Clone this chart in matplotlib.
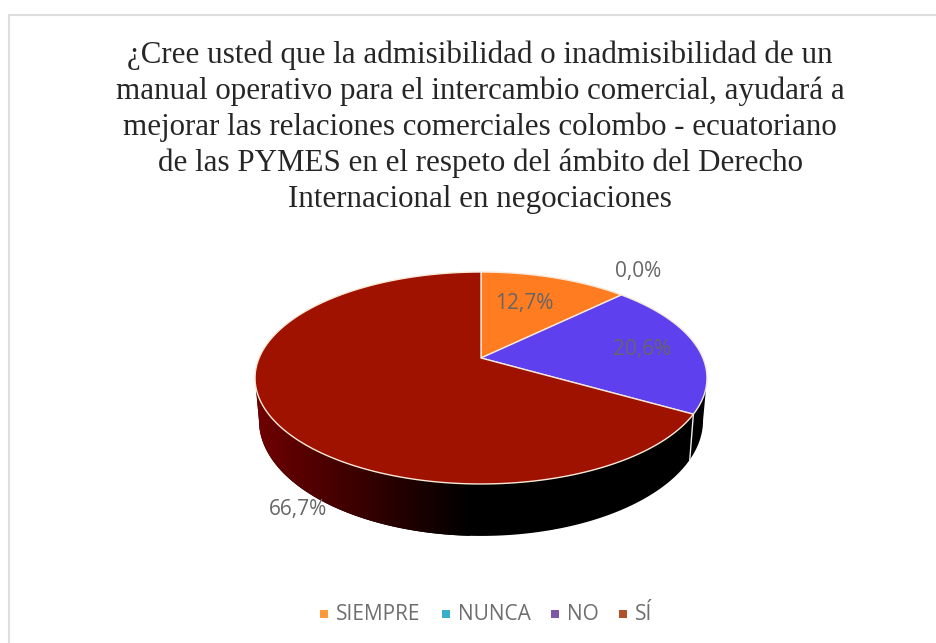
import numpy as np
import matplotlib
matplotlib.use('Agg')
import matplotlib.pyplot as plt
from matplotlib.patches import Polygon, Rectangle

title_lines = ['¿Cree usted que la admisibilidad o inadmisibilidad de un',
               'manual operativo para el intercambio comercial, ayudará a',
               'mejorar las relaciones comerciales colombo - ecuatoriano',
               'de las PYMES en el respeto del ámbito del Derecho',
               'Internacional en negociaciones']
categories = ['SIEMPRE', 'NUNCA', 'NO', 'SÍ']
values = [12.7, 0.0, 20.6, 66.7]
top_colors = ['#ff7c20', '#2fa8c8', '#5f40ee', '#a01200']
legend_colors = ['#ff9a3a', '#3aaec8', '#7e57a8', '#b0522a']

W, H = 936, 643
fig = plt.figure(figsize=(W / 100, H / 100), dpi=100)
ax = fig.add_axes([0, 0, 1, 1])
ax.set_xlim(0, W)
ax.set_ylim(H, 0)
ax.axis('off')

# frame, open at the bottom of the page
ax.plot([8.5, 8.5, 936], [643, 14.5, 14.5], color='#dedede', lw=1.5)

for i, line in enumerate(title_lines):
    ax.text(480, 55 + 36 * i, line, family='Liberation Serif', fontsize=22.3,
            color='#262626', ha='center', va='center')

CX = 481


def rim(deg, a, b, p, y0):
    # perspective view of the pie disc, deg runs clockwise from 12 o'clock
    t = np.radians(deg)
    u, v = np.sin(t), np.cos(t)
    w = 1 + p * v
    return CX + a * u / w, y0 - b * v / w


def top_rim(deg):
    return rim(deg, 221.9, 102.2, 0.1887, 358)


def low_rim(deg):
    return rim(deg, 218, 111.4, 0.19, 398.4)


edges = np.concatenate([[0], np.cumsum(values) / np.sum(values) * 360])

# side wall: only the part facing the viewer is visible
side_deg = np.linspace(101, 259, 400)
tx, ty = top_rim(side_deg)
lx, ly = low_rim(side_deg)
wall = np.column_stack([np.r_[tx, lx[::-1]], np.r_[ty, ly[::-1]]])
ax.add_patch(Polygon(wall, closed=True, fc='black', ec='none', zorder=2))

# the big slice's wall fades from dark red into black
grad = np.zeros((1, 256, 3))
grad[0, :, 0] = np.clip(0.44 * (1 - np.linspace(0, 1, 256)), 0, 1)
wall_clip = Polygon(wall, closed=True, transform=ax.transData)
im = ax.imshow(grad, extent=[255, 470, 540, 370], aspect='auto', zorder=2.5,
               interpolation='bilinear')
im.set_clip_path(wall_clip)
ax.set_xlim(0, W)
ax.set_ylim(H, 0)

# seam on the wall where the purple slice ends
sx0, sy0 = top_rim(edges[3])
sx1, sy1 = low_rim(edges[3])
ax.plot([sx0, sx1], [sy0, sy1], color='#f0f0f0', lw=1, zorder=3)

# top face
for start, end, col in zip(edges[:-1], edges[1:], top_colors):
    if end - start == 0:
        continue
    deg = np.linspace(start, end, 200)
    x, y = top_rim(deg)
    pts = np.column_stack([np.r_[CX, x], np.r_[358, y]])
    ax.add_patch(Polygon(pts, closed=True, fc=col, ec='#f7e8d8', lw=1, zorder=4))

# data labels
label_pos = [(524, 303), (638, 272), (642, 349), (298, 509)]
for val, (lx_, ly_) in zip(values, label_pos):
    txt = f'{val:.1f}%'.replace('.', ',')
    ax.text(lx_, ly_, txt, family='Open Sans', fontsize=15, color='#666666',
            ha='center', va='center', zorder=5)

# legend row
marker_x = [320, 442, 551, 619]
label_x = [336, 458, 567, 635]
for cat, col, mx, tx_ in zip(categories, legend_colors, marker_x, label_x):
    ax.add_patch(Rectangle((mx, 610), 8, 8, fc=col, ec='none'))
    ax.text(tx_, 614, cat, family='Open Sans', fontsize=15, color='#6e6e6e',
            ha='left', va='center')

fig.savefig('out.png', dpi=100, facecolor='white')
